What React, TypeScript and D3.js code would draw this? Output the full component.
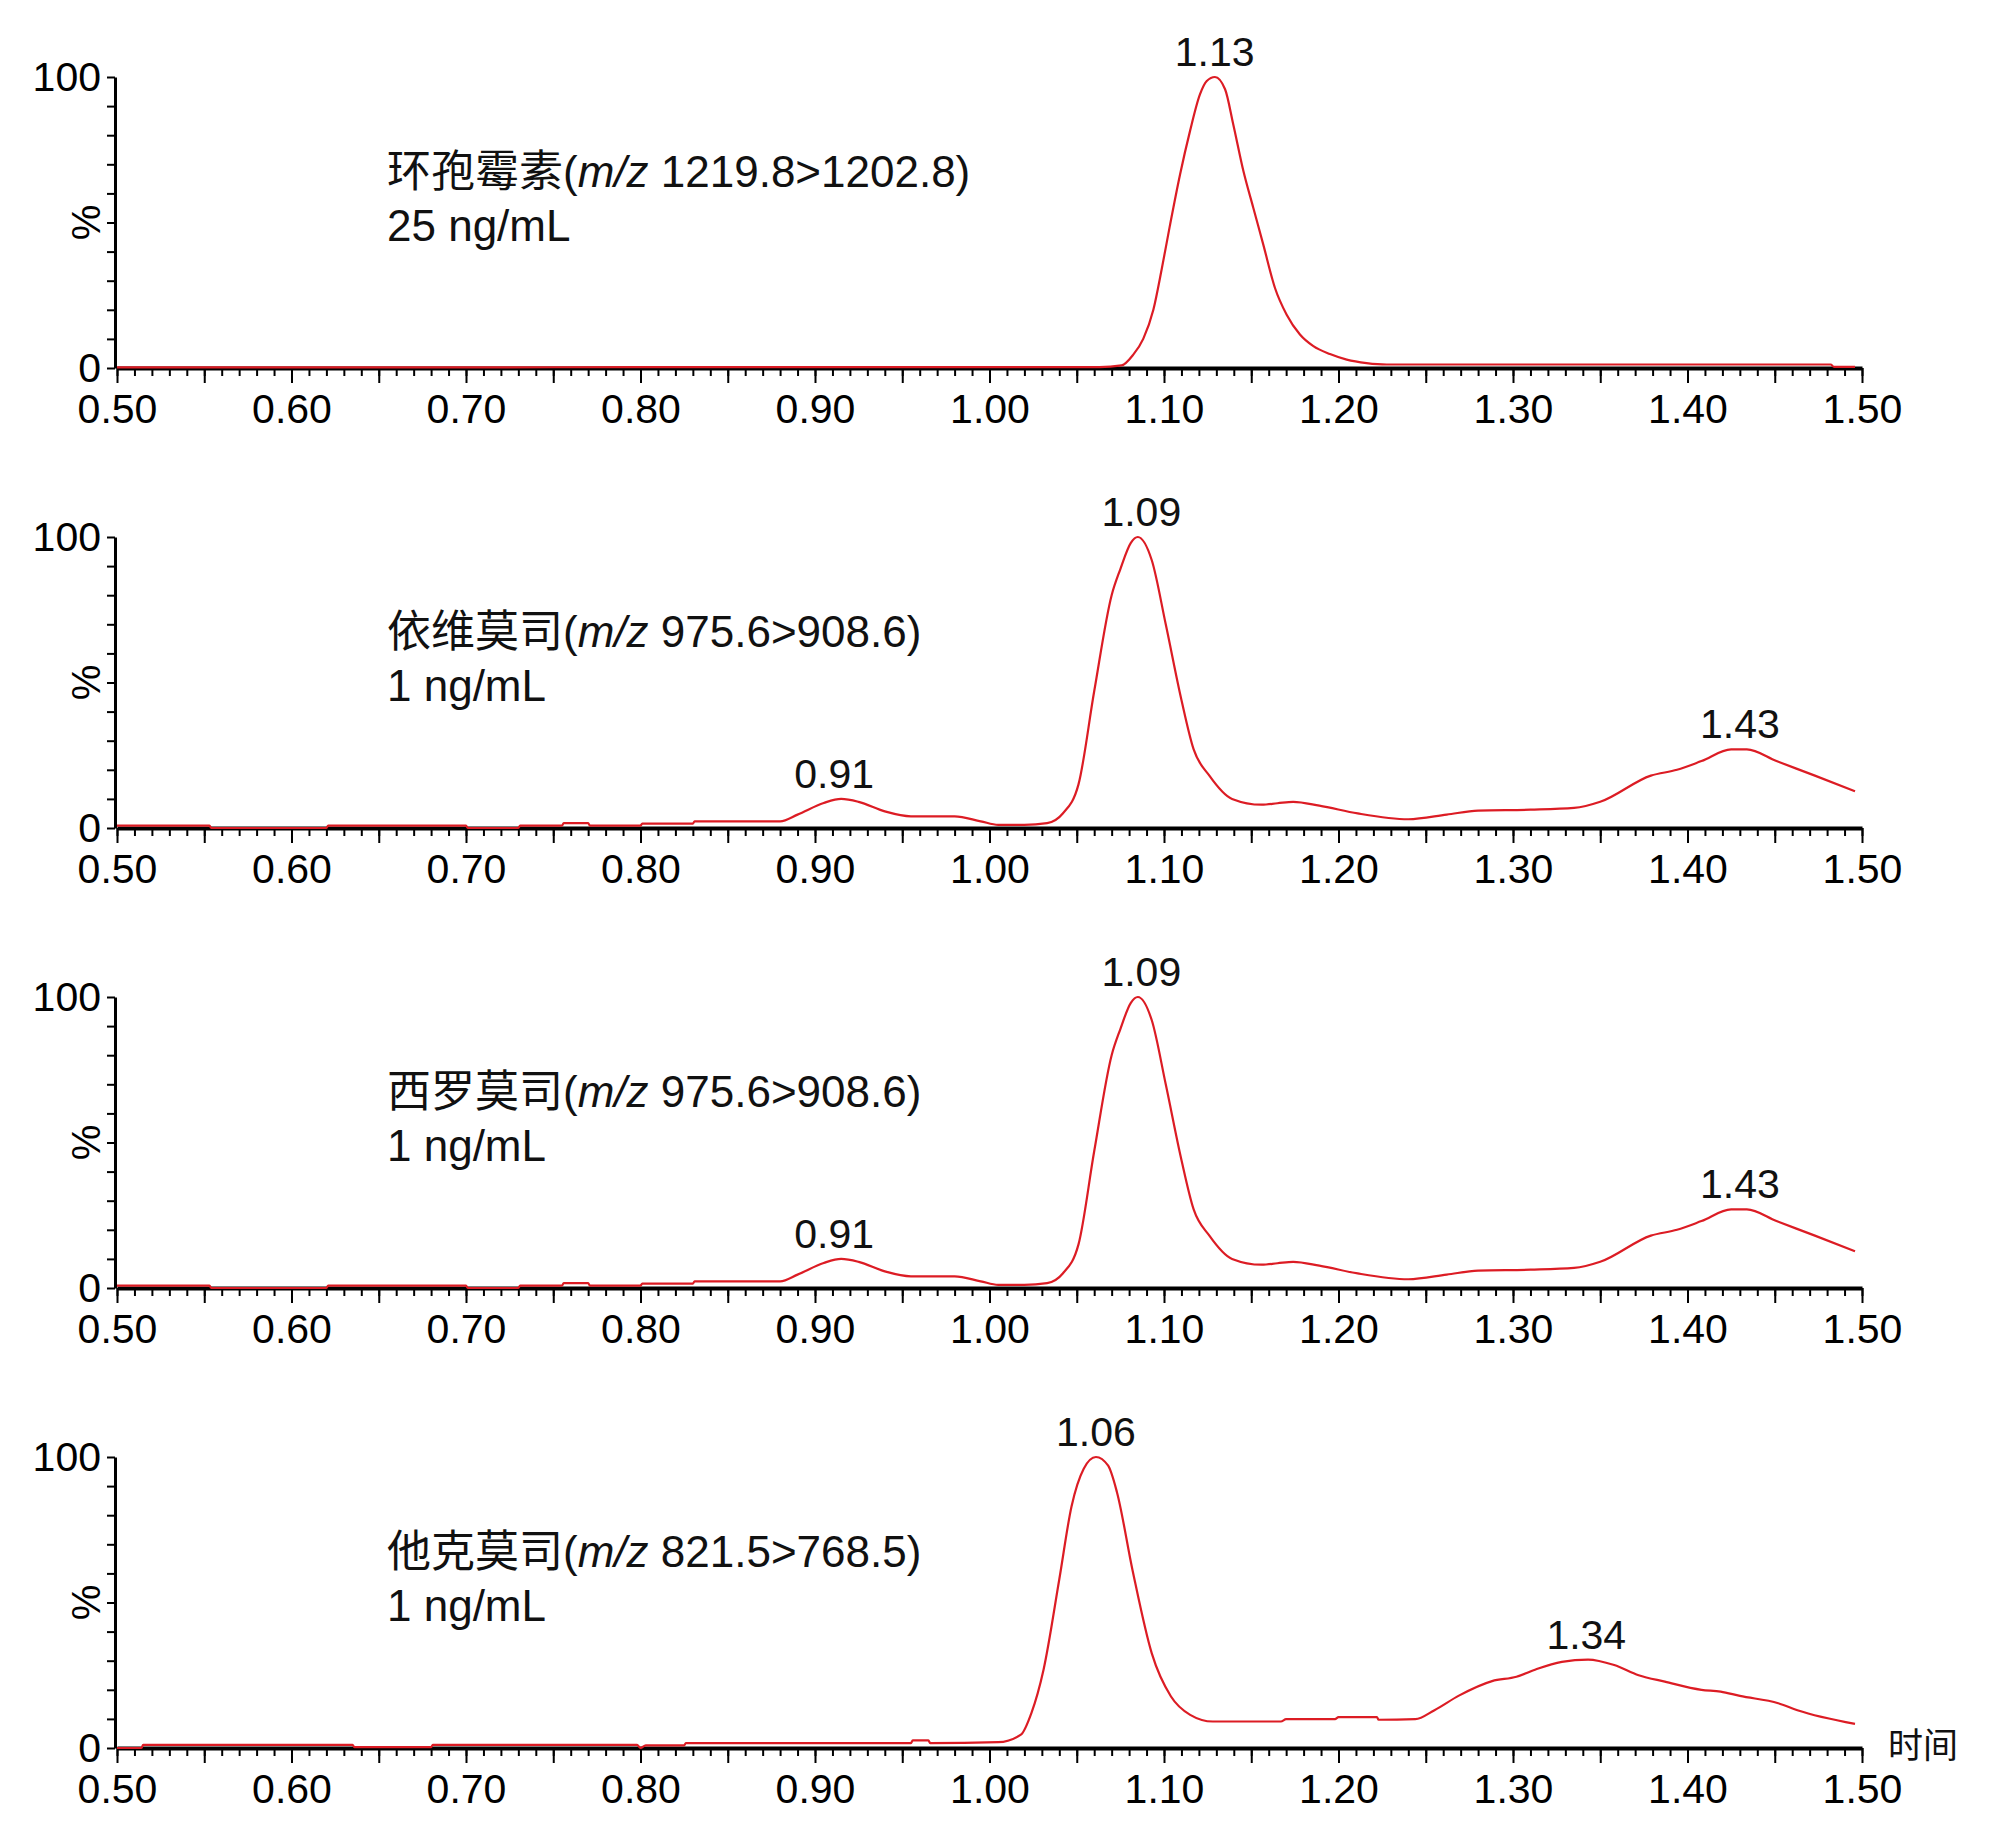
import { useEffect, useRef } from 'react';
import * as d3 from 'd3';

// ---- data (time in min, intensity in %) ----
const cyclosporinTime = [0.5, 0.6, 0.7, 0.8, 0.9, 1.0, 1.063, 1.0757, 1.0824, 1.0881, 1.0939, 1.0987, 1.1034, 1.1092, 1.1149, 1.1206, 1.1245, 1.1292, 1.135, 1.1397, 1.1455, 1.1512, 1.1569, 1.1636, 1.1703, 1.1779, 1.1856, 1.1951, 1.2047, 1.2161, 1.2276, 1.3, 1.4, 1.482, 1.484, 1.496];
const cyclosporinPct = [0.2, 0.2, 0.2, 0.3, 0.3, 0.3, 0.3, 0.9, 4.6, 10, 20, 34, 49, 66.5, 81.4, 94, 98.6, 100, 95.8, 83.7, 67.7, 55, 42.4, 27.5, 18.3, 11.5, 7.5, 4.8, 2.9, 1.7, 1.2, 1.2, 1.2, 1.2, 0.4, 0.4];

const everolimusTime = [0.5, 0.553, 0.554, 0.62, 0.621, 0.7, 0.701, 0.73, 0.731, 0.755, 0.756, 0.77, 0.771, 0.8, 0.801, 0.83, 0.831, 0.88, 0.89, 0.905, 0.915, 0.925, 0.94, 0.955, 0.98, 0.995, 1.005, 1.02, 1.033, 1.042, 1.051, 1.06, 1.07, 1.075, 1.081, 1.085, 1.093, 1.101, 1.11, 1.117, 1.126, 1.139, 1.156, 1.165, 1.174, 1.189, 1.211, 1.24, 1.262, 1.28, 1.31, 1.335, 1.35, 1.379, 1.394, 1.408, 1.425, 1.434, 1.451, 1.473, 1.496];
const everolimusPct = [0.8, 0.8, 0, 0, 0.8, 0.8, 0, 0, 0.8, 0.8, 1.7, 1.7, 0.8, 0.8, 1.5, 1.5, 2.3, 2.3, 4.6, 8.6, 10, 9, 5.7, 4, 4, 2.3, 1.1, 1.1, 1.7, 5, 15, 47, 80, 89, 98, 100, 92, 70, 44, 27, 18, 10, 8, 8.5, 9, 7.7, 5, 3, 4.6, 6, 6.3, 6.9, 9, 18, 20, 23, 27, 27, 23, 18, 12.6];

const sirolimusTime = [0.5, 0.553, 0.554, 0.62, 0.621, 0.7, 0.701, 0.73, 0.731, 0.755, 0.756, 0.77, 0.771, 0.8, 0.801, 0.83, 0.831, 0.88, 0.89, 0.905, 0.915, 0.925, 0.94, 0.955, 0.98, 0.995, 1.005, 1.02, 1.033, 1.042, 1.051, 1.06, 1.07, 1.075, 1.081, 1.085, 1.093, 1.101, 1.11, 1.117, 1.126, 1.139, 1.156, 1.165, 1.174, 1.189, 1.211, 1.24, 1.262, 1.28, 1.31, 1.335, 1.35, 1.379, 1.394, 1.408, 1.425, 1.434, 1.451, 1.473, 1.496];
const sirolimusPct = [0.8, 0.8, 0, 0, 0.8, 0.8, 0, 0, 0.8, 0.8, 1.7, 1.7, 0.8, 0.8, 1.5, 1.5, 2.3, 2.3, 4.6, 8.6, 10, 9, 5.7, 4, 4, 2.3, 1.1, 1.1, 1.7, 5, 15, 47, 80, 89, 98, 100, 92, 70, 44, 27, 18, 10, 8, 8.5, 9, 7.7, 5, 3, 4.6, 6, 6.3, 6.9, 9, 18, 20, 23, 27, 27, 23, 18, 12.6];

const tacrolimusTime = [0.5, 0.514, 0.515, 0.635, 0.636, 0.68, 0.681, 0.798, 0.8, 0.803, 0.825, 0.826, 0.955, 0.956, 0.965, 0.966, 1.005, 1.018, 1.024, 1.031, 1.04, 1.047, 1.054, 1.061, 1.068, 1.073, 1.082, 1.093, 1.104, 1.115, 1.128, 1.167, 1.17, 1.198, 1.2, 1.222, 1.223, 1.244, 1.255, 1.269, 1.288, 1.302, 1.313, 1.328, 1.343, 1.358, 1.372, 1.387, 1.408, 1.419, 1.43, 1.452, 1.463, 1.496];
const tacrolimusPct = [0, 0, 1.1, 1.1, 0.3, 0.3, 1.1, 1.1, 0, 0.9, 0.9, 1.7, 1.7, 2.6, 2.6, 1.7, 2.0, 4.6, 12, 27, 58, 83, 96, 100, 97, 88, 61, 32.5, 17.7, 11.4, 9.1, 9.1, 9.9, 9.9, 10.6, 10.6, 9.7, 9.9, 13, 18, 23, 24.5, 27, 29.6, 30.4, 28.5, 25, 22.8, 20, 19.4, 17.9, 15.4, 13, 8.3];

const compoundNames = ['环孢霉素', '依维莫司', '西罗莫司', '他克莫司'];
const transitions = [' 1219.8>1202.8)', ' 975.6>908.6)', ' 975.6>908.6)', ' 821.5>768.5)'];
const concentrations = ['25 ng/mL', '1 ng/mL', '1 ng/mL', '1 ng/mL'];

const peakTimes = [[1.129], [0.911, 1.087, 1.43], [0.911, 1.087, 1.43], [1.061, 1.342]];
const peakHeights = [[100], [10, 100, 27], [10, 100, 27], [100, 30.4]];
const peakLabels = [['1.13'], ['0.91', '1.09', '1.43'], ['0.91', '1.09', '1.43'], ['1.06', '1.34']];

const timeTicks = [0.5, 0.6, 0.7, 0.8, 0.9, 1.0, 1.1, 1.2, 1.3, 1.4, 1.5];
const percentTicks = [0, 100];

const traces = [
  { time: cyclosporinTime, pct: cyclosporinPct },
  { time: everolimusTime, pct: everolimusPct },
  { time: sirolimusTime, pct: sirolimusPct },
  { time: tacrolimusTime, pct: tacrolimusPct },
];

const LATIN = "'Liberation Sans', Arial, 'Noto Sans CJK SC', sans-serif";
const CJK = "'Liberation Sans', 'Noto Sans CJK SC', sans-serif";

export default function App() {
  const svgRef = useRef<SVGSVGElement>(null);

  useEffect(() => {
    if (!svgRef.current) return;
    const svg = d3.select(svgRef.current);
    svg.selectAll('*').remove();

    const width = 2000;
    const panelTop = 77;
    const panelStep = 460;
    const panelHeight = 291;

    const x = d3.scaleLinear().domain([0.5, 1.5]).range([117, 1862]);
    const minorTicks = d3.range(0, 101).map(i => 0.5 + i * 0.01);
    const midTicks = d3.range(0, 21).map(i => 0.5 + i * 0.05);

    svg.append('rect').attr('width', width).attr('height', 1838).attr('fill', '#fff');

    traces.forEach((tr, i) => {
      const top = panelTop + i * panelStep;
      const y = d3.scaleLinear().domain([0, 100]).range([top + panelHeight, top]);
      const g = svg.append('g');
      const zeroY = y(0);

      // x axis: minor ticks, 0.05 ticks, labels
      const xg = g.append('g').attr('transform', `translate(0,${zeroY})`);
      xg.append('g')
        .call(d3.axisBottom(x).tickValues(minorTicks).tickSize(8).tickSizeOuter(0).tickFormat(() => ''))
        .call(a => a.select('.domain').attr('stroke', '#000').attr('stroke-width', 4))
        .call(a => a.selectAll('.tick line').attr('stroke', '#000').attr('stroke-width', 2));
      xg.append('g')
        .call(d3.axisBottom(x).tickValues(midTicks).tickSize(15).tickSizeOuter(0).tickFormat(() => ''))
        .call(a => a.select('.domain').remove())
        .call(a => a.selectAll('.tick line').attr('stroke', '#000').attr('stroke-width', 2));
      xg.append('g')
        .call(d3.axisBottom(x).tickValues(timeTicks).tickSize(0).tickPadding(26).tickFormat(d => d3.format('.2f')(d as number)))
        .call(a => a.select('.domain').remove())
        .call(a => a.selectAll('text').attr('fill', '#000').style('font-size', '41px').style('font-family', LATIN));

      // y axis
      const yg = g.append('g').attr('transform', `translate(115,0)`);
      yg.append('g')
        .call(d3.axisLeft(y).tickValues(d3.range(0, 101, 10)).tickSize(8).tickSizeOuter(0).tickFormat(() => ''))
        .call(a => a.select('.domain').attr('stroke', '#000').attr('stroke-width', 3))
        .call(a => a.selectAll('.tick line').attr('stroke', '#000').attr('stroke-width', 2));
      yg.append('g')
        .call(d3.axisLeft(y).tickValues(percentTicks).tickSize(0).tickPadding(14).tickFormat(d => `${d}`))
        .call(a => a.select('.domain').remove())
        .call(a => a.selectAll('text').attr('fill', '#000').style('font-size', '41px').style('font-family', LATIN));

      g.append('text')
        .attr('transform', `translate(86,${y(50)}) rotate(-90)`)
        .attr('text-anchor', 'middle')
        .attr('dominant-baseline', 'central')
        .attr('fill', '#000')
        .style('font-size', '40px')
        .style('font-family', LATIN)
        .text('%');

      // trace
      const pts = tr.time.map((t, k) => [t, tr.pct[k]] as [number, number]);
      const line = d3.line<[number, number]>()
        .x(d => x(d[0]))
        .y(d => y(d[1]))
        .curve(d3.curveMonotoneX);
      g.append('path')
        .attr('d', line(pts) || '')
        .attr('fill', 'none')
        .attr('stroke', '#dc1c24')
        .attr('stroke-width', 2.2)
        .attr('stroke-linejoin', 'round');

      // peak labels
      peakTimes[i].forEach((t, k) => {
        g.append('text')
          .attr('x', x(t))
          .attr('y', y(peakHeights[i][k]) - 11)
          .attr('text-anchor', 'middle')
          .attr('fill', '#111')
          .style('font-size', '41px')
          .style('font-family', LATIN)
          .text(peakLabels[i][k]);
      });

      // compound label
      const lbl = g.append('text')
        .attr('x', 387)
        .attr('y', top + 110)
        .attr('fill', '#111')
        .style('font-size', '44px')
        .style('font-family', CJK);
      lbl.append('tspan').text(compoundNames[i] + '(');
      lbl.append('tspan').style('font-style', 'italic').text('m/z');
      lbl.append('tspan').text(transitions[i]);
      g.append('text')
        .attr('x', 387)
        .attr('y', top + 164)
        .attr('fill', '#111')
        .style('font-size', '44px')
        .style('font-family', LATIN)
        .text(concentrations[i]);

      if (i === traces.length - 1) {
        g.append('text')
          .attr('x', 1888)
          .attr('y', zeroY + 10)
          .attr('fill', '#111')
          .style('font-size', '35px')
          .style('font-family', "'Noto Sans CJK SC', sans-serif")
          .text('时间');
      }
    });
  }, []);

  return (
    <svg
      ref={svgRef}
      width={2000}
      height={1838}
      style={{ position: 'absolute', left: 0, top: 0, display: 'block' }}
    />
  );
}
